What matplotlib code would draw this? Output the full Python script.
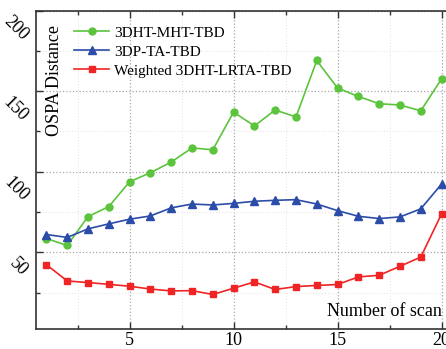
import matplotlib.pyplot as plt
import matplotlib.transforms as mtransforms
from matplotlib.ticker import MultipleLocator

plt.rcParams['font.family'] = ['Liberation Serif', 'DejaVu Serif']

scans = list(range(1, 21))
mht_tbd = [58.6, 54.3, 72.2, 78.4, 93.8, 99.4, 106.0, 114.8, 113.6, 137.0,
           128.4, 138.3, 134.0, 169.0, 151.9, 146.7, 142.2, 141.4, 137.8, 157.6]
dpta_tbd = [61.1, 59.3, 64.6, 67.7, 70.6, 72.6, 77.6, 80.0, 79.4, 80.4,
            81.7, 82.3, 82.7, 80.0, 75.9, 72.4, 71.0, 72.0, 77.0, 92.4]
lrta_tbd = [42.4, 32.3, 31.3, 30.2, 29.0, 27.3, 26.1, 26.3, 23.9, 27.8,
            31.7, 27.0, 28.8, 29.5, 30.1, 34.8, 35.8, 41.4, 47.1, 73.9]
series_names = ['3DHT-MHT-TBD', '3DP-TA-TBD', 'Weighted 3DHT-LRTA-TBD']

fig = plt.figure(figsize=(4.46, 3.49), dpi=100)
ax = fig.add_axes([0.0807, 0.0573, 0.9327, 0.9126])

ax.plot(scans, mht_tbd, color='#5cc43c', marker='o', ms=5, lw=1.2, label=series_names[0])
ax.plot(scans, dpta_tbd, color='#2b4ca8', marker='^', ms=5.5, lw=1.2, label=series_names[1])
ax.plot(scans, lrta_tbd, color='#f02424', marker='s', ms=4.5, lw=1.2, label=series_names[2])

ax.set_xlim(0.5, 20.5)
ax.set_ylim(2.5, 200)
ax.xaxis.set_major_locator(MultipleLocator(5))
ax.xaxis.set_minor_locator(MultipleLocator(2.5))
ax.yaxis.set_major_locator(MultipleLocator(50))
ax.yaxis.set_minor_locator(MultipleLocator(25))

ax.grid(which='major', color='#a8a8a8', ls=':', lw=0.9)
ax.grid(which='minor', color='#e8e8e8', ls=':', lw=0.8)
ax.set_axisbelow(True)

ax.tick_params(which='both', direction='in', top=True, right=False, labelsize=13,
               color='#333333', width=1.0)
ax.tick_params(which='major', length=5)
ax.tick_params(which='minor', length=3)
ax.tick_params(axis='x', pad=2)
for sp in ax.spines.values():
    sp.set_color('#333333')
    sp.set_linewidth(1.2)

ax.set_yticks([50, 100, 150, 200])
ax.set_yticklabels(['50', '100', '150', '200'], rotation=-45)
# rotated labels sit a little below their ticks
shift = mtransforms.ScaledTranslation(0, -9 / 100, fig.dpi_scale_trans)
for lbl in ax.get_yticklabels():
    lbl.set_transform(lbl.get_transform() + shift)

ax.text(0.045, 0.78, 'OSPA Distance', transform=ax.transAxes, rotation=90,
        ha='center', va='center', fontsize=13)
ax.text(0.975, 0.055, 'Number of scan', transform=ax.transAxes,
        ha='right', va='center', fontsize=13)

ax.legend(loc='upper left', bbox_to_anchor=(0.07, 0.98), frameon=False,
          fontsize=11, handlelength=2.3, handletextpad=0.3, labelspacing=0.35,
          borderaxespad=0.2)

fig.savefig('out.png', dpi=100)
